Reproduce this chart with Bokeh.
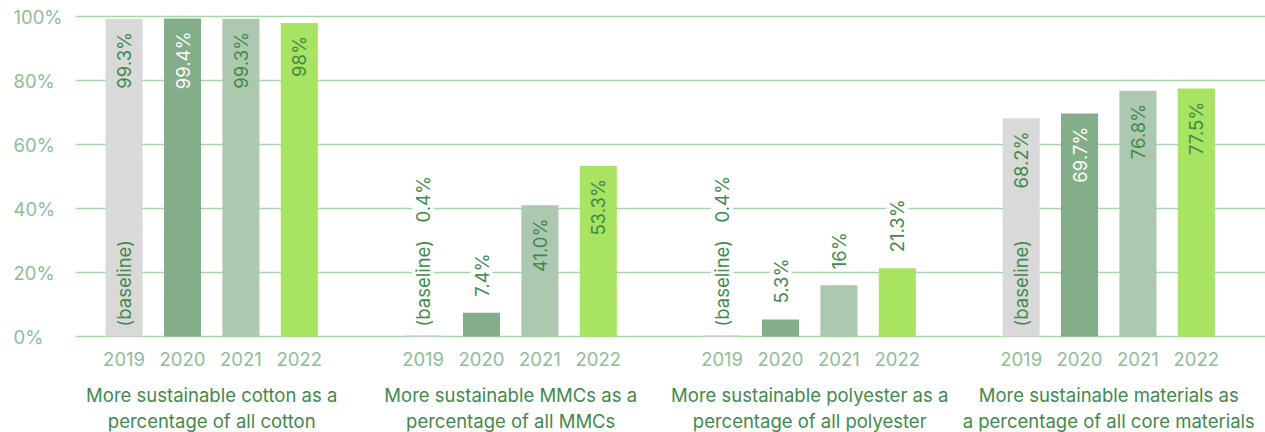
import math
from bokeh.plotting import figure
from bokeh.models import ColumnDataSource
from bokeh.core.properties import value
from bokeh.embed import file_html
from bokeh.resources import INLINE

# ---- data ----
groups = [
    "More sustainable cotton as a\npercentage of all cotton",
    "More sustainable MMCs as a\npercentage of all MMCs",
    "More sustainable polyester as a\npercentage of all polyester",
    "More sustainable materials as\na percentage of all core materials",
]
years = ["2019", "2020", "2021", "2022"]
cotton = [99.3, 99.4, 99.3, 98.0]
mmcs = [0.4, 7.4, 41.0, 53.3]
polyester = [0.4, 5.3, 16.0, 21.3]
core = [68.2, 69.7, 76.8, 77.5]
value_labels = [
    ["99.3%", "99.4%", "99.3%", "98%"],
    ["0.4%", "7.4%", "41.0%", "53.3%"],
    ["0.4%", "5.3%", "16%", "21.3%"],
    ["68.2%", "69.7%", "76.8%", "77.5%"],
]
baseline_text = "(baseline)"
y_ticks = [0, 20, 40, 60, 80, 100]
y_tick_labels = ["0%", "20%", "40%", "60%", "80%", "100%"]

series = [cotton, mmcs, polyester, core]
year_colors = ["#d9d9d9", "#84ad89", "#adc8b0", "#a8e462"]

FONT = value("Inter")
FS = "18.5px"
GREEN = "#3f8a4b"
LIGHT_GREEN = "#8fbd96"
GRID = "#a9d3ab"

# layout (in bar-step units)
STRIDE = 5.12
PX = 58.4
X0_PX = 211.2
x_start = -X0_PX / PX
x_end = (1265 - X0_PX) / PX

p = figure(width=1265, height=432, x_range=(x_start, x_end), y_range=(-30, 105),
           output_backend="svg", toolbar_location=None, min_border=0,
           x_axis_type=None, y_axis_type=None)
p.outline_line_color = None
p.xgrid.visible = False
p.ygrid.visible = False

# grid lines
grid_x0 = (75 - X0_PX) / PX
p.segment(x0=[grid_x0] * len(y_ticks), x1=[x_end] * len(y_ticks), y0=y_ticks, y1=y_ticks,
          line_color=GRID, line_width=1.3)

# y tick labels
p.text(x=[(13 - X0_PX) / PX] * len(y_ticks), y=y_ticks, text=y_tick_labels,
       text_font=FONT, text_font_size=FS, text_color=LIGHT_GREEN,
       text_align="left", text_baseline="middle")

xs, tops, colors, yr = [], [], [], []
lab_x, lab_y, lab_t, lab_c, lab_off, lab_align, lab_bg = [], [], [], [], [], [], []
bl_x, bl_bg = [], []
for gi, vals in enumerate(series):
    for yi, v in enumerate(vals):
        x = gi * STRIDE + (yi - 1.5)
        xs.append(x); tops.append(v); colors.append(year_colors[yi]); yr.append(years[yi])
        inside = v > 30
        lab_x.append(x)
        lab_t.append(value_labels[gi][yi])
        if inside:
            lab_y.append(v); lab_off.append(13); lab_align.append("right")
            lab_c.append("white" if yi == 1 else GREEN)
            lab_bg.append(None)
        elif yi == 0:
            lab_y.append(0); lab_off.append(-114); lab_align.append("left")
            lab_c.append(GREEN); lab_bg.append("white")
        else:
            lab_y.append(v); lab_off.append(-16); lab_align.append("left")
            lab_c.append(GREEN); lab_bg.append("white")
        if yi == 0:
            bl_x.append(x)
            bl_bg.append(None if inside else "white")

bars = ColumnDataSource(dict(x=xs, top=tops, color=colors, year=yr))
p.vbar(x="x", top="top", bottom=0, width=0.635, fill_color="color", line_color=None, source=bars)

# year labels
p.text(x="x", y=-6.9, text="year", source=bars, text_font=FONT, text_font_size=FS,
       text_color=LIGHT_GREEN, text_align="center", text_baseline="middle")

# value labels
labs = ColumnDataSource(dict(x=lab_x, y=lab_y, t=lab_t, c=lab_c, off=lab_off, al=lab_align, bg=lab_bg))
p.text(x="x", y="y", text="t", y_offset="off", text_align="al", text_color="c",
       background_fill_color="bg", angle=math.pi / 2, source=labs,
       text_font=FONT, text_font_size=FS, text_baseline="middle")

# baseline labels
bls = ColumnDataSource(dict(x=bl_x, y=[0] * len(bl_x), t=[baseline_text] * len(bl_x), bg=bl_bg))
p.text(x="x", y="y", text="t", y_offset=-10, text_align="left", text_color=GREEN,
       background_fill_color="bg", angle=math.pi / 2, source=bls,
       text_font=FONT, text_font_size=FS, text_baseline="middle")

# group labels
gx = [gi * STRIDE for gi in range(len(groups))]
p.text(x=gx, y=[-14.7] * len(groups), text=groups, text_font=FONT, text_font_size=FS,
       text_color=GREEN, text_align="center", text_baseline="top", text_line_height=1.2)

open("out.html", "w").write(file_html(p, INLINE))
